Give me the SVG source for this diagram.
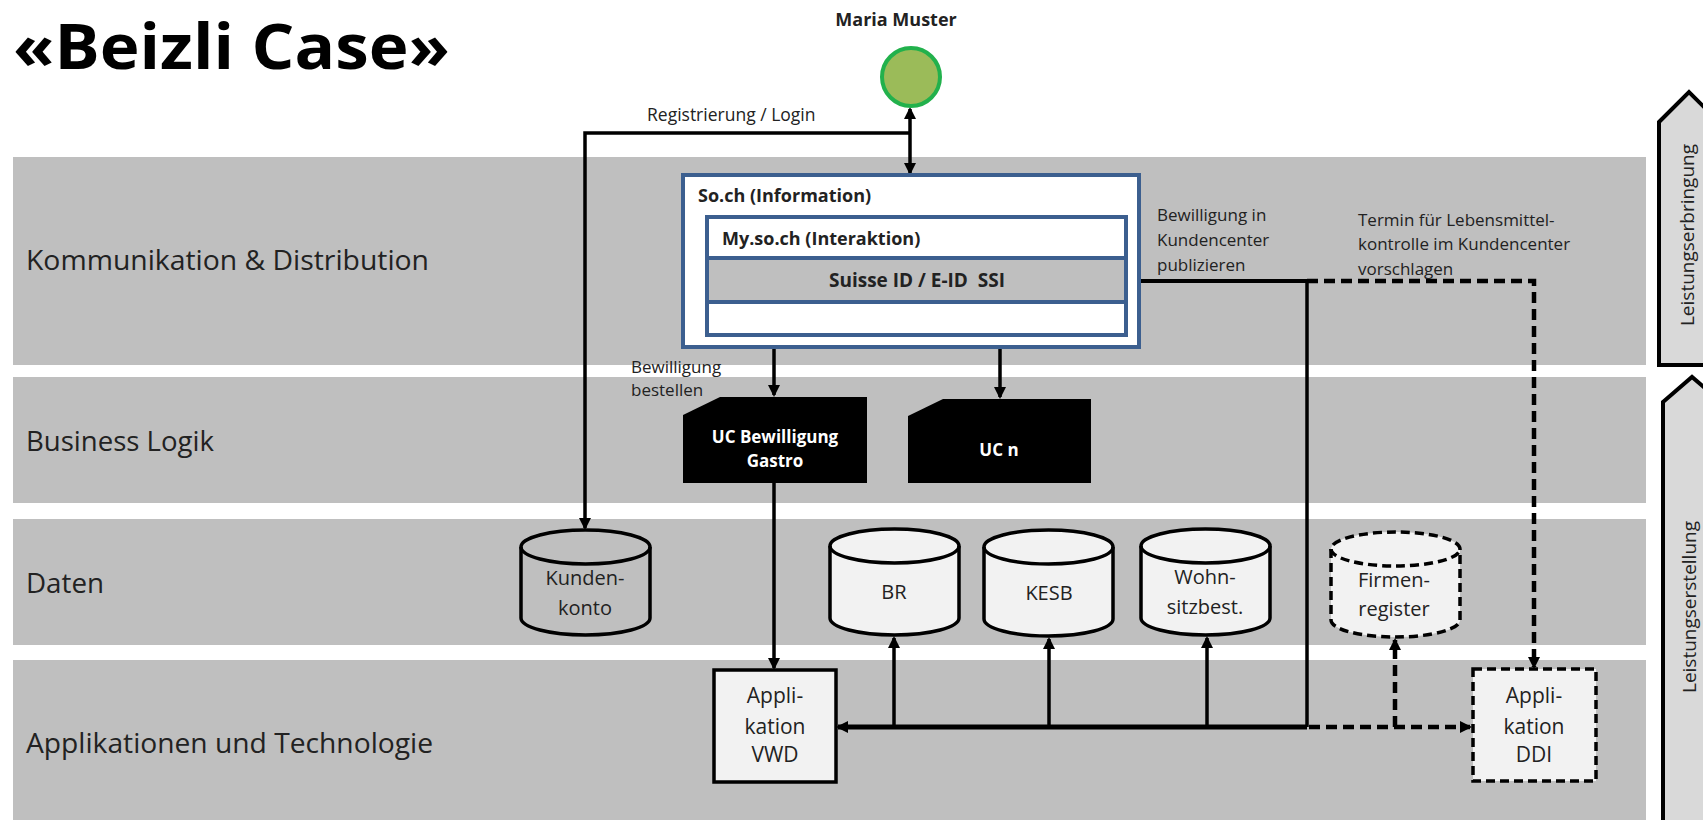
<svg xmlns="http://www.w3.org/2000/svg" width="1703" height="820" viewBox="0 0 1703 820">
<defs>
<marker id="arr" viewBox="0 0 12 12" refX="10" refY="6" markerWidth="12" markerHeight="12" markerUnits="userSpaceOnUse" orient="auto-start-reverse">
<path d="M0,0 L12,6 L0,12 z" fill="#000"/>
</marker>
</defs>
<style>
text{font-family:"Open Sans","Noto Sans","DejaVu Sans",sans-serif;fill:#222}
.b{font-weight:bold}
.lane{font-size:27px}
.lbl{font-size:17px}
.cyl{font-size:20px;text-anchor:middle}
.band{fill:#BFBFBF}
.ln{fill:none;stroke:#000;stroke-width:3.5}
.bus{fill:none;stroke:#000;stroke-width:5}
.dash{fill:none;stroke:#000;stroke-width:4.5;stroke-dasharray:11 6}
.db{stroke:#000;stroke-width:3.5}
.light{fill:#F2F2F2}
.blue{stroke:#3C5F8F;stroke-width:4}
.uc{fill:#000}
.uct{fill:#fff;font-weight:bold;font-size:17px;text-anchor:middle}
.side{fill:#D9D9D9;stroke:#000;stroke-width:4}
.sidet{font-size:19px;text-anchor:middle}
</style>
<rect width="1703" height="820" fill="#fff"/>

<g id="bands">
<rect class="band" x="13" y="157" width="1633" height="208"/>
<rect class="band" x="13" y="377" width="1633" height="126"/>
<rect class="band" x="13" y="519" width="1633" height="126"/>
<rect class="band" x="13" y="660" width="1633" height="170"/>
<text class="lane" x="26" y="270" textLength="403" lengthAdjust="spacingAndGlyphs">Kommunikation &amp; Distribution</text>
<text class="lane" x="26" y="451" textLength="188" lengthAdjust="spacingAndGlyphs">Business Logik</text>
<text class="lane" x="26" y="593" textLength="78" lengthAdjust="spacingAndGlyphs">Daten</text>
<text class="lane" x="26" y="753" textLength="407" lengthAdjust="spacingAndGlyphs">Applikationen und Technologie</text>
</g>

<g id="title">
<text class="b" x="13" y="69" textLength="437" lengthAdjust="spacingAndGlyphs" style="fill:#000;font-size:63px">«Beizli Case»</text>
</g>

<g id="side-arrows">
<g id="leistungserbringung">
<polygon class="side" points="1659,122 1689,92 1719,122 1719,365 1659,365"/>
<text class="sidet" transform="translate(1694,235) rotate(-90)">Leistungserbringung</text>
</g>
<g id="leistungserstellung">
<polygon class="side" points="1663,402 1692,377 1721,402 1721,830 1663,830"/>
<text class="sidet" transform="translate(1696,607) rotate(-90)">Leistungserstellung</text>
</g>
</g>

<g id="connectors">
<line class="ln" x1="910" y1="109" x2="910" y2="173" marker-start="url(#arr)" marker-end="url(#arr)"/>
<path class="ln" d="M910,133 H585 V528" marker-end="url(#arr)"/>
<line class="ln" x1="774" y1="335" x2="774" y2="395" marker-end="url(#arr)"/>
<line class="ln" x1="1000" y1="335" x2="1000" y2="397" marker-end="url(#arr)"/>
<line class="ln" x1="774" y1="483" x2="774" y2="668" marker-end="url(#arr)"/>
<path class="ln" d="M1307,281 H1128" marker-end="url(#arr)" style="stroke-width:4"/>
<path class="ln" d="M1307,281 V727"/>
<path class="bus" d="M1307,727 H838" marker-end="url(#arr)"/>
<line class="ln" x1="894" y1="727" x2="894" y2="638" marker-end="url(#arr)"/>
<line class="ln" x1="1049" y1="727" x2="1049" y2="639" marker-end="url(#arr)"/>
<line class="ln" x1="1207" y1="727" x2="1207" y2="638" marker-end="url(#arr)"/>
<path class="dash" d="M1307,281 H1534 V667" marker-end="url(#arr)"/>
<path class="dash" d="M1309,727 H1470" marker-end="url(#arr)"/>
<line class="dash" x1="1395" y1="727" x2="1395" y2="640" marker-end="url(#arr)"/>
<text class="lbl" x="647" y="121" style="font-size:17.5px">Registrierung / Login</text>
<text class="lbl" x="631" y="373">Bewilligung</text>
<text class="lbl" x="631" y="396">bestellen</text>
<text class="lbl" x="1157" y="221">Bewilligung in</text>
<text class="lbl" x="1157" y="246">Kundencenter</text>
<text class="lbl" x="1157" y="271">publizieren</text>
<text class="lbl" x="1358" y="226">Termin für Lebensmittel-</text>
<text class="lbl" x="1358" y="250">kontrolle im Kundencenter</text>
<text class="lbl" x="1358" y="275">vorschlagen</text>
</g>

<g id="maria-muster">
<text class="b" x="896" y="26" text-anchor="middle" style="font-size:18px">Maria Muster</text>
<circle cx="911" cy="77" r="29" fill="#9BBB59" stroke="#22B14C" stroke-width="4"/>
</g>

<g id="so-ch">
<rect x="683" y="175" width="456" height="172" fill="#fff" class="blue"/>
<text class="b" x="698" y="202" style="font-size:18px">So.ch (Information)</text>
</g>
<g id="my-so-ch">
<rect x="707" y="217" width="419" height="118" fill="#fff" class="blue"/>
<text class="b" x="722" y="245" style="font-size:18px">My.so.ch (Interaktion)</text>
</g>
<g id="suisse-id">
<rect x="707" y="258" width="419" height="44" fill="#BFBFBF" class="blue"/>
<text class="b" x="917" y="287" text-anchor="middle" style="font-size:19px">Suisse ID / E-ID&#160; SSI</text>
</g>

<g id="uc-gastro">
<polygon class="uc" points="683,415 720,397 867,397 867,483 683,483"/>
<text class="uct" x="775" y="443">UC Bewilligung</text>
<text class="uct" x="775" y="467">Gastro</text>
</g>
<g id="uc-n">
<polygon class="uc" points="908,416 943,399 1091,399 1091,483 908,483"/>
<text class="uct" x="999" y="456">UC n</text>
</g>

<g id="kundenkonto">
<path class="db" fill="#BFBFBF" d="M521,547 V618 A64.5,17 0 0 0 650,618 V547 A64.5,17 0 0 0 521,547 Z"/>
<path class="db" fill="none" d="M521,547 A64.5,17 0 0 0 650,547"/>
<text class="cyl" x="585" y="585">Kunden-</text>
<text class="cyl" x="585" y="615">konto</text>
</g>
<g id="br">
<path class="db light" d="M830,546 V618 A64.5,17 0 0 0 959,618 V546 A64.5,17 0 0 0 830,546 Z"/>
<path class="db" fill="none" d="M830,546 A64.5,17 0 0 0 959,546"/>
<text class="cyl" x="894" y="599">BR</text>
</g>
<g id="kesb">
<path class="db light" d="M984,547 V619 A64.5,17 0 0 0 1113,619 V547 A64.5,17 0 0 0 984,547 Z"/>
<path class="db" fill="none" d="M984,547 A64.5,17 0 0 0 1113,547"/>
<text class="cyl" x="1049" y="600">KESB</text>
</g>
<g id="wohnsitzbest">
<path class="db light" d="M1141,546 V618 A64.5,17 0 0 0 1270,618 V546 A64.5,17 0 0 0 1141,546 Z"/>
<path class="db" fill="none" d="M1141,546 A64.5,17 0 0 0 1270,546"/>
<text class="cyl" x="1205" y="584">Wohn-</text>
<text class="cyl" x="1205" y="614">sitzbest.</text>
</g>
<g id="firmenregister">
<path class="db light" stroke-dasharray="9 5" d="M1331,549 V620 A64.5,17 0 0 0 1460,620 V549 A64.5,17 0 0 0 1331,549 Z"/>
<path class="db" stroke-dasharray="9 5" fill="none" d="M1331,549 A64.5,17 0 0 0 1460,549"/>
<text class="cyl" x="1394" y="587">Firmen-</text>
<text class="cyl" x="1394" y="616">register</text>
</g>

<g id="app-vwd">
<rect class="db light" x="714" y="670" width="122" height="112"/>
<text class="cyl" x="775" y="703" style="font-size:21px">Appli-</text>
<text class="cyl" x="775" y="734" style="font-size:21px">kation</text>
<text class="cyl" x="775" y="762" style="font-size:21px">VWD</text>
</g>
<g id="app-ddi">
<rect class="db light" stroke-dasharray="9 5" x="1473" y="669" width="123" height="112"/>
<text class="cyl" x="1534" y="703" style="font-size:21px">Appli-</text>
<text class="cyl" x="1534" y="734" style="font-size:21px">kation</text>
<text class="cyl" x="1534" y="762" style="font-size:21px">DDI</text>
</g>
</svg>
